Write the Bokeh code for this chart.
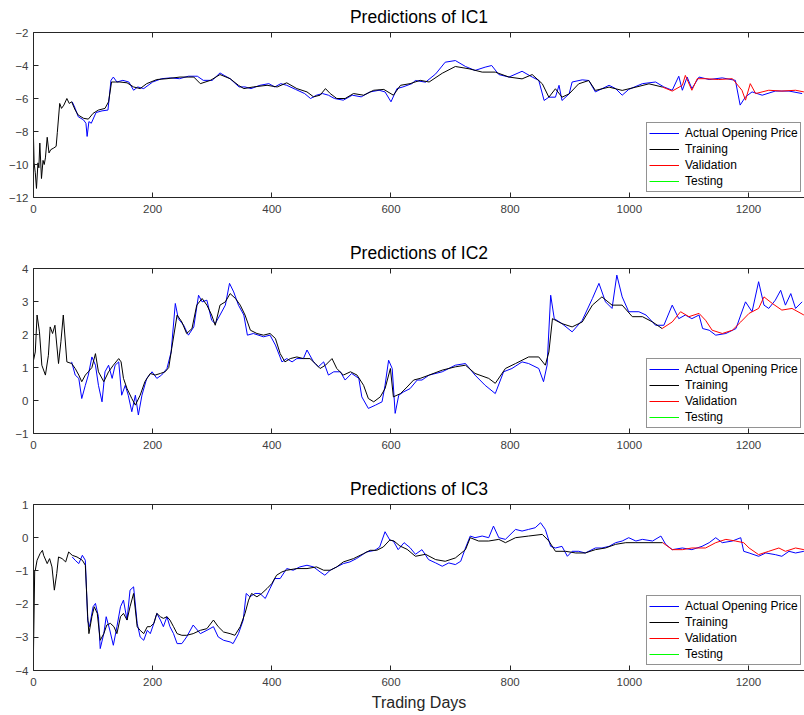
from bokeh.plotting import figure
from bokeh.models import (LinearAxis, FixedTicker, Range1d, CustomLabelingPolicy,
                          Legend, LegendItem, BoxAnnotation)
from bokeh.layouts import column
from bokeh.embed import file_html
from bokeh.resources import INLINE

# ---------------- data ----------------
x_ticks = [0, 200, 400, 600, 800, 1000, 1200]
legend_labels = ["Actual Opening Price", "Training", "Validation", "Testing"]
titles = ["Predictions of IC1", "Predictions of IC2", "Predictions of IC3"]
x_label = "Trading Days"

ic1_y_ticks = [-12, -10, -8, -6, -4, -2]
ic2_y_ticks = [-1, 0, 1, 2, 3, 4]
ic3_y_ticks = [-4, -3, -2, -1, 0, 1]

NAN = float("nan")

# IC1
ic1_train_day = [0, 1, 3, 5, 7.5, 9, 10.6, 13.4, 16, 18, 20, 23, 26, 29, 34, 38, 40, 44, 47, 51, 56, 60, 64, 70, 75, 84, 92, 100, 109, 120, 126, 131, 137, 145, 157, 168, 179, 190, 207, 224, 246, 269, 280, 297, 313, 330, 344, 353, 369, 392, 409, 425, 442, 459, 470, 481, 490, 498, 509, 523, 537, 554, 571, 588, 604, 616, 632, 649, 664, 686, 708, 731, 753, 775, 798, 820, 837, 854, 865, 876, 887, 899, 915, 932, 943, 966, 988, 1011, 1033, 1056]
ic1_train_val = [-8.4, -9.9, -10.5, -11.45, -9.9, -10.2, -8.7, -10.85, -9.75, -10.0, -9.6, -8.35, -9.3, -9.1, -9.0, -8.9, -8.05, -6.3, -6.6, -6.4, -6.0, -6.3, -6.2, -6.7, -7.0, -7.2, -7.25, -6.9, -6.7, -6.6, -6.2, -5.0, -5.0, -5.0, -5.05, -5.3, -5.4, -5.1, -4.85, -4.8, -4.7, -4.7, -5.1, -4.9, -4.55, -4.8, -5.2, -5.4, -5.3, -5.2, -5.3, -5.05, -5.4, -5.6, -5.9, -5.8, -5.4, -5.7, -6.0, -6.0, -5.7, -5.8, -5.5, -5.45, -5.8, -5.2, -5.1, -4.9, -5.0, -4.47, -4.06, -4.2, -4.4, -4.4, -4.7, -4.81, -4.55, -5.11, -5.92, -5.41, -5.92, -5.72, -5.11, -4.91, -5.51, -5.31, -5.51, -5.31, -5.11, -5.31]
ic1_actual_day = [65, 70, 75, 84, 88, 90, 93, 97, 105, 115, 125, 130, 134, 140, 150, 160, 168, 175, 185, 200, 215, 230, 245, 260, 275, 285, 300, 313, 320, 330, 345, 355, 365, 380, 395, 405, 415, 425, 440, 455, 465, 475, 485, 495, 505, 520, 535, 550, 565, 580, 590, 600, 610, 620, 635, 641, 658, 675, 691, 708, 725, 741, 758, 769, 781, 798, 820, 837, 848, 857, 865, 876, 882, 887, 899, 904, 921, 932, 943, 966, 977, 988, 999, 1022, 1044, 1058, 1072, 1083, 1089, 1097, 1105, 1117, 1134, 1156, 1178, 1186, 1195, 1206, 1223, 1245, 1268, 1290]
ic1_actual_val = [-6.2, -6.6, -7.1, -7.3, -7.5, -8.3, -7.4, -7.5, -6.85, -6.75, -6.7, -4.9, -4.7, -5.0, -4.9, -5.0, -5.5, -5.3, -5.4, -5.0, -4.8, -4.75, -4.8, -4.65, -4.65, -4.9, -4.9, -4.45, -4.6, -4.8, -5.3, -5.3, -5.4, -5.2, -5.1, -5.3, -5.1, -5.2, -5.45, -5.7, -6.0, -5.8, -5.7, -5.8, -6.0, -6.1, -5.8, -5.9, -5.6, -5.5, -5.6, -6.2, -5.4, -5.3, -5.1, -4.91, -5.01, -4.51, -3.8, -3.7, -4.06, -4.3, -4.1, -4.0, -4.55, -4.7, -4.35, -4.7, -4.9, -6.12, -5.92, -5.92, -5.2, -6.12, -5.72, -5.0, -4.87, -4.91, -5.6, -5.2, -5.4, -5.8, -5.45, -5.1, -5.0, -5.3, -5.5, -4.65, -5.5, -4.7, -5.4, -4.7, -4.85, -4.75, -4.9, -6.4, -5.9, -5.6, -5.8, -5.55, -5.55, -5.7]
ic1_valid_day = [1056, 1072, 1089, 1094, 1105, 1114, 1128, 1150, 1173, 1189, 1195, 1203, 1212, 1234, 1256, 1279, 1293]
ic1_valid_val = [-5.31, -5.55, -5.2, -4.6, -5.5, -4.8, -4.8, -4.85, -4.8, -5.5, -6.1, -5.1, -5.7, -5.5, -5.55, -5.5, -5.6]
ic1_test_day = [NAN]   # testing period lies beyond the visible window
ic1_test_val = [NAN]

# IC2
ic2_train_day = [0, 3, 6, 10, 14, 20, 25, 28, 32, 36, 42, 46, 50, 56, 64, 70, 76, 81, 87, 92, 98, 104, 109, 118, 126, 134, 143, 147, 151, 157, 165, 171, 179, 187, 196, 204, 213, 221, 227, 232, 241, 249, 257, 266, 274, 283, 291, 299, 305, 313, 322, 330, 339, 347, 355, 364, 375, 386, 397, 406, 414, 422, 431, 442, 453, 464, 473, 481, 490, 501, 509, 520, 532, 543, 554, 562, 571, 582, 590, 599, 604, 616, 627, 638, 649, 664, 686, 708, 725, 741, 764, 775, 792, 809, 831, 848, 859, 865, 871, 887, 904, 921, 938, 954, 971, 988, 1005, 1022, 1039, 1055]
ic2_train_val = [1.22, 1.47, 2.59, 2.08, 1.07, 0.77, 1.37, 2.23, 2.03, 2.28, 1.12, 1.78, 2.59, 1.17, 1.12, 0.97, 0.77, 0.57, 0.77, 0.87, 1.0, 1.42, 0.87, 0.57, 0.87, 1.07, 1.27, 1.17, 0.67, 0.36, 0.06, -0.14, 0.16, 0.57, 0.82, 0.77, 0.82, 0.87, 1.0, 1.58, 2.59, 2.38, 2.03, 2.18, 2.89, 3.09, 2.89, 2.59, 2.28, 2.89, 2.99, 3.24, 3.09, 2.89, 2.59, 2.13, 2.03, 1.98, 2.03, 1.88, 1.42, 1.17, 1.27, 1.32, 1.27, 1.27, 1.12, 0.97, 1.07, 1.27, 0.97, 0.77, 0.87, 0.77, 0.46, 0.06, -0.04, 0.11, 0.36, 0.97, 0.11, 0.21, 0.41, 0.62, 0.67, 0.77, 0.92, 1.02, 1.07, 0.82, 0.67, 0.52, 0.97, 1.12, 1.32, 1.32, 1.07, 1.47, 2.48, 2.33, 2.23, 2.38, 2.89, 3.14, 2.89, 2.89, 2.54, 2.54, 2.38, 2.18]
ic2_actual_day = [64, 70, 76, 81, 87, 92, 98, 104, 109, 115, 120, 126, 132, 137, 143, 148, 154, 159, 165, 171, 176, 182, 190, 199, 207, 215, 224, 231, 238, 243, 252, 260, 269, 277, 283, 291, 299, 305, 313, 322, 329, 336, 344, 353, 359, 369, 386, 397, 406, 417, 425, 434, 442, 453, 459, 470, 478, 487, 495, 504, 515, 523, 534, 546, 551, 562, 574, 585, 590, 596, 602, 607, 613, 621, 632, 644, 652, 664, 686, 708, 725, 741, 758, 775, 789, 803, 820, 831, 848, 856, 862, 868, 874, 887, 904, 921, 938, 949, 960, 971, 979, 988, 999, 1016, 1028, 1044, 1058, 1072, 1083, 1094, 1105, 1117, 1123, 1134, 1145, 1162, 1179, 1187, 1195, 1206, 1217, 1226, 1234, 1245, 1254, 1262, 1271, 1279, 1290]
ic2_actual_val = [1.17, 0.77, 0.67, 0.06, 0.46, 0.77, 1.32, 1.07, 0.46, -0.04, 0.87, 1.07, 0.67, 1.07, 1.17, 0.16, 0.46, 0.16, -0.34, 0.16, -0.44, 0.16, 0.67, 0.87, 0.67, 0.77, 0.97, 1.47, 2.94, 2.48, 2.28, 1.98, 2.23, 3.19, 2.99, 3.04, 2.43, 2.33, 2.59, 2.89, 3.55, 3.29, 2.89, 2.59, 1.98, 2.03, 1.93, 1.98, 1.68, 1.17, 1.27, 1.17, 1.27, 1.27, 1.53, 1.17, 1.02, 1.17, 0.77, 0.87, 0.87, 0.62, 0.82, 0.67, 0.11, -0.24, -0.14, -0.04, 0.46, 1.22, 0.97, -0.39, 0.16, 0.26, 0.36, 0.62, 0.62, 0.77, 0.87, 1.07, 1.12, 0.77, 0.46, 0.21, 0.87, 0.97, 1.17, 1.12, 0.97, 0.57, 1.07, 3.19, 2.48, 2.33, 2.08, 2.43, 3.09, 3.55, 2.99, 2.79, 3.8, 3.14, 2.69, 2.69, 2.59, 2.28, 2.28, 2.89, 2.48, 2.59, 2.48, 2.59, 2.18, 2.13, 1.98, 2.03, 2.18, 2.59, 2.99, 2.69, 3.6, 2.89, 2.79, 3.04, 3.34, 2.89, 3.24, 2.79, 2.99]
ic2_valid_day = [1055, 1072, 1086, 1100, 1117, 1128, 1139, 1156, 1173, 1187, 1201, 1217, 1226, 1240, 1256, 1273, 1293]
ic2_valid_val = [2.18, 2.38, 2.69, 2.54, 2.64, 2.43, 2.13, 2.03, 2.13, 2.38, 2.64, 2.79, 3.14, 2.94, 2.74, 2.79, 2.59]
ic2_test_day = [NAN]
ic2_test_val = [NAN]

# IC3
ic3_train_day = [0, 2, 3, 6, 11, 15, 17, 23, 27, 31, 35, 39, 42, 48, 54, 59, 65, 73, 82, 87, 91, 93, 98, 102, 107, 112, 118, 123, 129, 135, 140, 146, 151, 157, 162, 168, 174, 179, 185, 191, 196, 202, 207, 213, 218, 224, 229, 235, 241, 249, 257, 268, 280, 291, 302, 310, 319, 330, 338, 347, 355, 361, 366, 375, 383, 392, 400, 408, 417, 425, 442, 459, 475, 487, 498, 509, 520, 537, 554, 565, 576, 587, 598, 605, 615, 627, 641, 658, 675, 691, 708, 725, 733, 747, 764, 781, 792, 809, 831, 854, 865, 876, 893, 910, 926, 943, 960, 977, 994, 1011, 1033, 1056]
ic3_train_val = [-3.4, -1.0, -0.98, -0.68, -0.48, -0.38, -0.53, -0.78, -0.63, -0.88, -1.58, -1.08, -0.58, -0.63, -0.73, -0.43, -0.53, -0.58, -0.68, -0.83, -2.38, -2.89, -2.38, -2.08, -2.28, -3.09, -2.89, -2.63, -2.58, -2.68, -2.89, -2.38, -2.28, -2.48, -2.08, -1.68, -2.68, -2.79, -2.89, -2.68, -2.68, -2.58, -2.28, -2.38, -2.43, -2.38, -2.48, -2.68, -2.89, -2.94, -2.94, -2.89, -2.79, -2.74, -2.48, -2.68, -2.84, -2.89, -2.94, -2.68, -2.28, -1.88, -1.68, -1.78, -1.68, -1.53, -1.38, -1.13, -1.03, -0.98, -0.93, -0.93, -0.88, -0.98, -0.98, -0.88, -0.73, -0.63, -0.48, -0.38, -0.38, -0.28, -0.07, -0.1, -0.25, -0.35, -0.56, -0.5, -0.66, -0.71, -0.61, -0.36, 0.0, -0.1, -0.1, -0.05, -0.15, 0.0, 0.05, 0.1, -0.1, -0.41, -0.41, -0.46, -0.46, -0.36, -0.31, -0.2, -0.15, -0.15, -0.15, -0.15]
ic3_actual_day = [65, 70, 76, 82, 87, 91, 94, 100, 104, 109, 112, 118, 122, 128, 134, 140, 146, 151, 157, 162, 168, 174, 179, 185, 191, 196, 202, 207, 213, 218, 224, 229, 235, 241, 249, 257, 268, 280, 291, 302, 310, 319, 330, 335, 344, 352, 357, 363, 372, 380, 389, 397, 405, 414, 425, 436, 447, 459, 470, 481, 489, 498, 509, 520, 531, 542, 559, 573, 581, 590, 598, 604, 612, 622, 632, 641, 652, 663, 675, 686, 697, 708, 717, 725, 733, 741, 753, 764, 772, 781, 792, 809, 820, 831, 842, 851, 859, 868, 876, 887, 896, 904, 915, 926, 943, 954, 966, 977, 988, 999, 1011, 1022, 1039, 1053, 1061, 1072, 1089, 1105, 1122, 1134, 1145, 1156, 1173, 1187, 1192, 1201, 1217, 1229, 1245, 1256, 1268, 1279, 1293]
ic3_actual_val = [-0.58, -0.68, -0.78, -0.53, -0.68, -2.5, -2.68, -2.08, -1.98, -2.38, -3.34, -2.89, -2.38, -2.78, -3.24, -2.68, -2.08, -1.88, -2.48, -1.58, -1.48, -2.58, -2.99, -3.09, -2.79, -2.89, -2.58, -2.28, -2.48, -2.68, -2.38, -2.68, -2.89, -3.19, -3.19, -2.99, -2.63, -2.89, -2.79, -2.68, -2.99, -3.09, -3.14, -3.19, -2.89, -2.48, -1.68, -1.78, -1.68, -1.68, -1.83, -1.53, -1.23, -1.23, -0.93, -0.98, -0.88, -0.83, -0.88, -1.03, -1.13, -0.98, -0.88, -0.78, -0.73, -0.63, -0.43, -0.38, -0.28, 0.18, -0.07, -0.1, -0.36, -0.15, -0.3, -0.5, -0.36, -0.66, -0.76, -0.86, -0.76, -0.81, -0.71, -0.31, 0.05, 0.0, 0.05, 0.0, 0.35, 0.0, -0.05, 0.25, 0.2, 0.25, 0.3, 0.45, 0.25, -0.26, -0.31, -0.26, -0.56, -0.41, -0.41, -0.46, -0.31, -0.31, -0.26, -0.15, -0.1, 0.0, -0.1, -0.05, -0.1, 0.05, -0.2, -0.36, -0.31, -0.36, -0.26, -0.15, 0.0, -0.15, -0.1, 0.0, -0.41, -0.46, -0.56, -0.46, -0.51, -0.56, -0.41, -0.46, -0.41]
ic3_valid_day = [1056, 1072, 1089, 1105, 1128, 1145, 1162, 1178, 1192, 1201, 1217, 1234, 1251, 1262, 1279, 1293]
ic3_valid_val = [-0.15, -0.36, -0.36, -0.31, -0.31, -0.15, -0.05, -0.1, -0.15, -0.31, -0.51, -0.41, -0.31, -0.41, -0.31, -0.36]
ic3_test_day = [NAN]
ic3_test_val = [NAN]

# ---------------- styling ----------------
FONT = "Liberation Sans"
AXC = "#262626"
TICKC = "#404040"
COLORS = ["#0000ff", "#000000", "#ff0000", "#00ff00"]

# legend geometry (pixels from the frame's bottom-left corner)
LEG_X, LEG_Y = 613, 5
LEG_PAD, LEG_ROW, LEG_GLYPH_W = 2, 16, 30


def style_axis(ax, labels=True):
    ax.axis_line_color = AXC
    ax.axis_line_width = 1
    ax.major_tick_line_color = AXC
    ax.major_tick_in = 5
    ax.major_tick_out = 0
    ax.minor_tick_line_color = None
    ax.major_label_text_font = FONT
    ax.major_label_text_color = TICKC
    if labels:
        ax.major_label_text_font_size = "11.5px"
    else:
        ax.major_label_policy = CustomLabelingPolicy(code="return new Set()")
        ax.major_label_text_font_size = "1px"
        ax.major_label_standoff = 0


def make_fig(title, ylo, yhi, yticks, series, frame_h, top_b, bottom_b, xlabel=None):
    p = figure(frame_width=771, frame_height=frame_h,
               x_range=Range1d(0, 1294), y_range=Range1d(ylo, yhi),
               output_backend="svg", toolbar_location=None,
               min_border_left=33, min_border_right=0,
               min_border_top=top_b, min_border_bottom=bottom_b,
               title=title)
    p.outline_line_color = None
    p.grid.visible = False
    p.background_fill_color = "white"
    p.border_fill_color = "white"
    p.title.text_font = FONT
    p.title.text_font_size = "17.5px"
    p.title.text_font_style = "normal"
    p.title.text_color = "#000000"
    p.title.align = "center"
    p.title.offset = 8
    p.title.standoff = 3

    bottom_axis = p.xaxis[0]
    left_axis = p.yaxis[0]
    bottom_axis.ticker = FixedTicker(ticks=x_ticks)
    left_axis.ticker = FixedTicker(ticks=yticks)
    style_axis(bottom_axis)
    style_axis(left_axis)
    bottom_axis.major_label_standoff = 7
    left_axis.major_label_standoff = 5
    if xlabel:
        bottom_axis.axis_label = xlabel
        bottom_axis.axis_label_text_font = FONT
        bottom_axis.axis_label_text_font_size = "16px"
        bottom_axis.axis_label_text_font_style = "normal"
        bottom_axis.axis_label_text_color = "#262626"
        bottom_axis.axis_label_standoff = 5
    top = LinearAxis(ticker=FixedTicker(ticks=x_ticks))
    style_axis(top, labels=False)
    p.add_layout(top, "above")

    items = []
    for (xs, ys), col, lab in zip(series, COLORS, legend_labels):
        r = p.line(xs, ys, line_color=col, line_width=1)
        items.append(LegendItem(label=lab, renderers=[r]))
    leg = Legend(items=items, location=(LEG_X, LEG_Y),
                 label_text_font=FONT, label_text_font_size="12px",
                 label_text_color="#000000",
                 glyph_width=LEG_GLYPH_W, glyph_height=LEG_ROW, label_height=LEG_ROW,
                 label_standoff=6, padding=LEG_PAD, spacing=0, margin=0,
                 border_line_color=AXC, border_line_width=1,
                 background_fill_color="white", background_fill_alpha=1)
    p.add_layout(leg)

    # coloured sample strokes laid over the legend's glyph column
    n = len(legend_labels)
    leg_top = LEG_Y + 2 * LEG_PAD + n * LEG_ROW
    for i, col in enumerate(COLORS):
        c = leg_top - LEG_PAD - LEG_ROW / 2 - LEG_ROW * i
        p.add_layout(BoxAnnotation(
            left=LEG_X + LEG_PAD, right=LEG_X + LEG_PAD + LEG_GLYPH_W,
            bottom=c - 1, top=c + 1,
            left_units="screen", right_units="screen",
            top_units="screen", bottom_units="screen",
            fill_color=col, fill_alpha=1, line_color=None))
    return p


p1 = make_fig(titles[0], -12, -2, ic1_y_ticks,
              [(ic1_actual_day, ic1_actual_val), (ic1_train_day, ic1_train_val),
               (ic1_valid_day, ic1_valid_val), (ic1_test_day, ic1_test_val)],
              165, 32, 39)
p2 = make_fig(titles[1], -1, 4, ic2_y_ticks,
              [(ic2_actual_day, ic2_actual_val), (ic2_train_day, ic2_train_val),
               (ic2_valid_day, ic2_valid_val), (ic2_test_day, ic2_test_val)],
              165, 32, 39)
p3 = make_fig(titles[2], -4, 1, ic3_y_ticks,
              [(ic3_actual_day, ic3_actual_val), (ic3_train_day, ic3_train_val),
               (ic3_valid_day, ic3_valid_val), (ic3_test_day, ic3_test_val)],
              166, 32, 45, xlabel=x_label)

layout = column(p1, p2, p3, spacing=0)
open("out.html", "w").write(file_html(layout, INLINE))
